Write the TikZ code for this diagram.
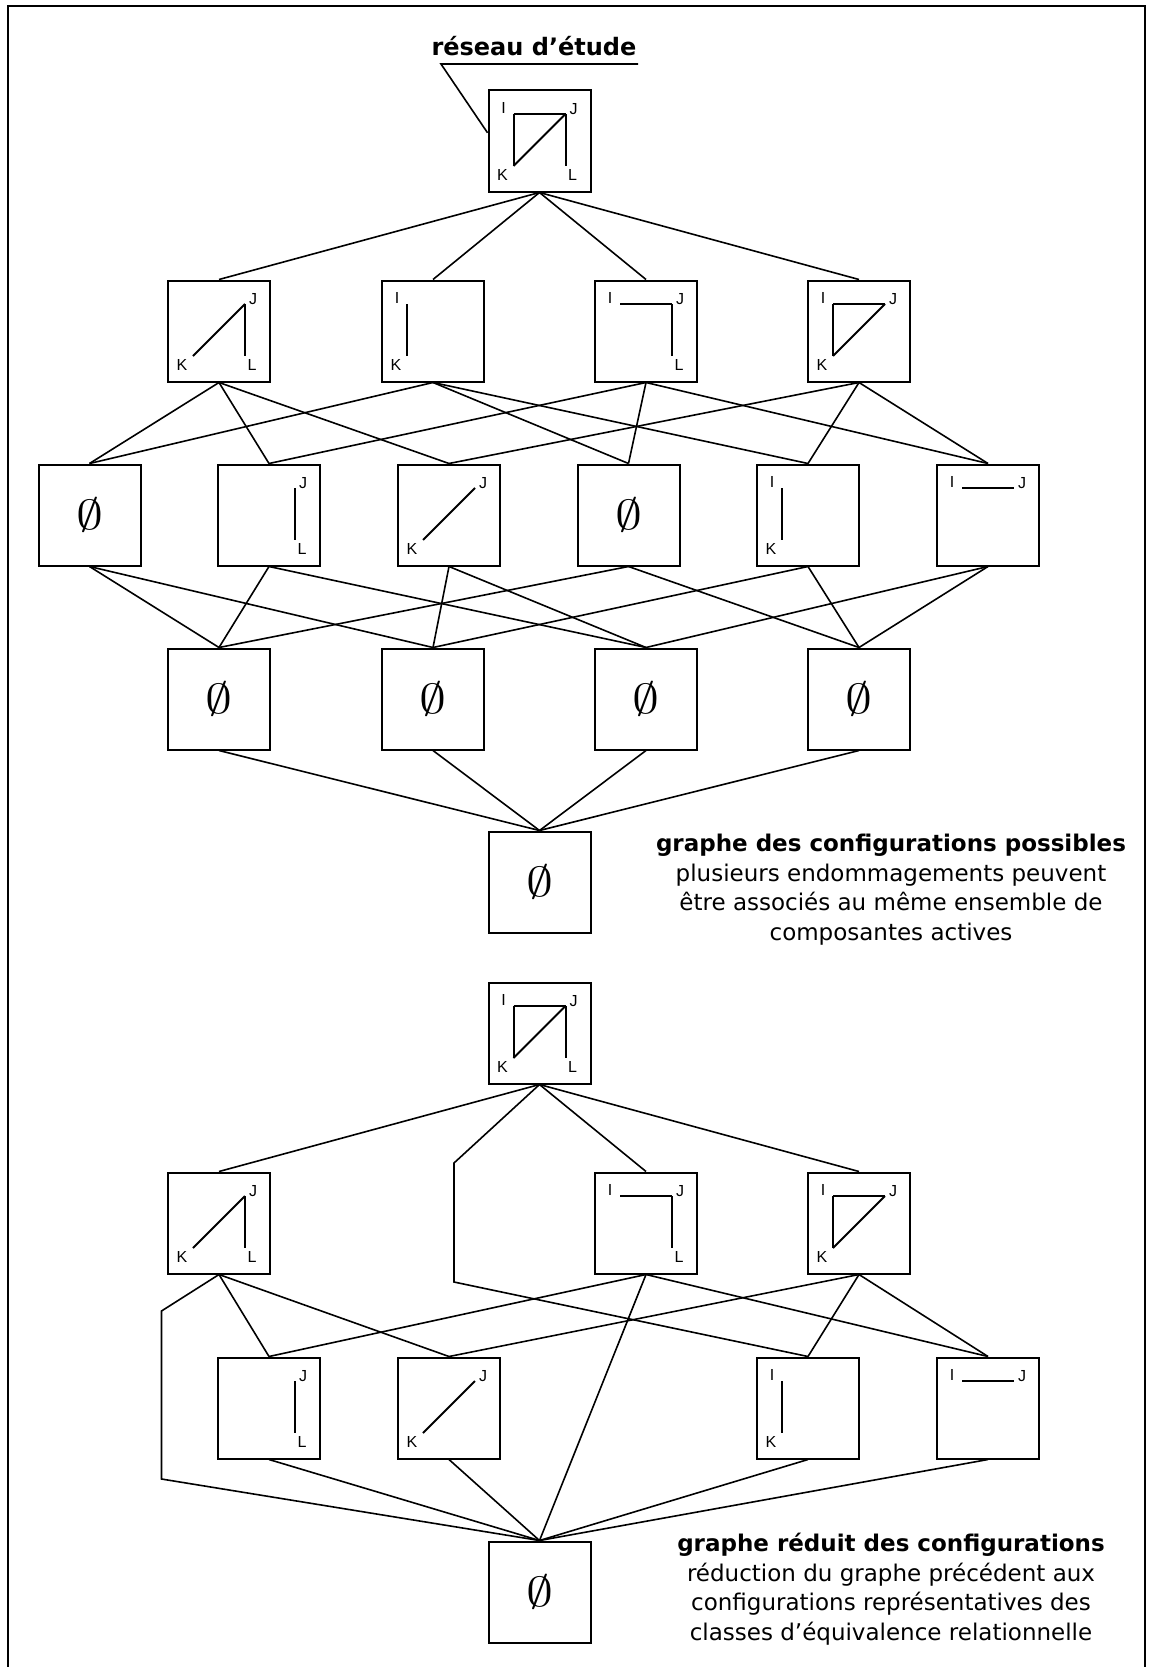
\documentclass[tikz,border=0pt]{standalone}
\usepackage{fontspec}
\setmainfont{DejaVu Sans}
\newfontfamily\lettres{Liberation Sans}
\usetikzlibrary{calc}

% morceaux des petits reseaux, relatifs au centre de la case
\newcommand{\cfgIJ}{\draw[trait] (-26,-27) -- (26,-27);}
\newcommand{\cfgIK}{\draw[trait] (-26,-27) -- (-26,25);}
\newcommand{\cfgKJ}{\draw[trait] (-26,25) -- (26,-27);}
\newcommand{\cfgJL}{\draw[trait] (26,-27) -- (26,25);}
\newcommand{\cfgI}{\node[lettre] at (-36,-33.5) {I};}
\newcommand{\cfgJ}{\node[lettre] at (34,-32) {J};}
\newcommand{\cfgK}{\node[lettre] at (-37,33.5) {K};}
\newcommand{\cfgL}{\node[lettre] at (33,33.5) {L};}
\newcommand{\cfgV}{\node[vide] at (0,0) {$\emptyset$};}
\newcommand{\reseau}[2]{%
  \begin{scope}[shift={(#1)}]
    \foreach \q in {#2} {\csname cfg\q\endcsname}
  \end{scope}}

\begin{document}
\begin{tikzpicture}[x=1pt, y=-1pt,
  case/.style={draw, line width=2pt, minimum width=102pt, minimum height=101pt, inner sep=0pt},
  lien/.style={line width=1.6pt},
  trait/.style={line width=2pt},
  lettre/.style={inner sep=0pt, font=\lettres\fontsize{16}{16}\selectfont},
  vide/.style={inner sep=0pt, xscale=5.4, yscale=4.2},
  legende/.style={align=center, inner sep=0pt, font=\fontsize{23}{29.5}\selectfont}]
  \useasboundingbox (0,0) rectangle (1150,1667);
  \draw[line width=2.5pt] (8,1667) -- (8,6) -- (1145,6) -- (1145,1667);

  % graphe des configurations possibles
  \node[case] (a0) at (539.5,141) {};
  \node[case] (b1) at (219,331) {};
  \node[case] (b2) at (433,331) {};
  \node[case] (b3) at (646,331) {};
  \node[case] (b4) at (859,331) {};
  \node[case] (c1) at (89.5,515) {};
  \node[case] (c2) at (269,515) {};
  \node[case] (c3) at (449,515) {};
  \node[case] (c4) at (628.5,515) {};
  \node[case] (c5) at (808,515) {};
  \node[case] (c6) at (988,515) {};
  \node[case] (d1) at (219,699) {};
  \node[case] (d2) at (433,699) {};
  \node[case] (d3) at (646,699) {};
  \node[case] (d4) at (859,699) {};
  \node[case] (e0) at (539.5,882) {};

  \reseau{a0}{I,J,K,L,IJ,IK,KJ,JL}
  \reseau{b1}{J,K,L,KJ,JL}
  \reseau{b2}{I,K,IK}
  \reseau{b3}{I,J,L,IJ,JL}
  \reseau{b4}{I,J,K,IJ,IK,KJ}
  \reseau{c1}{V}
  \reseau{c2}{J,L,JL}
  \reseau{c3}{J,K,KJ}
  \reseau{c4}{V}
  \reseau{c5}{I,K,IK}
  \reseau{c6}{I,J,IJ}
  \foreach \n in {d1,d2,d3,d4,e0} {\reseau{\n}{V}}

  \foreach \u/\v in {a0/b1,a0/b2,a0/b3,a0/b4,
      b1/c1,b1/c2,b1/c3,b2/c1,b2/c4,b2/c5,b3/c2,b3/c4,b3/c6,b4/c3,b4/c5,b4/c6,
      c1/d1,c1/d2,c2/d1,c2/d3,c3/d2,c3/d3,c4/d1,c4/d4,c5/d2,c5/d4,c6/d3,c6/d4,
      d1/e0,d2/e0,d3/e0,d4/e0}
    \draw[lien] (\u.south) -- (\v.north);

  \node[font=\bfseries\fontsize{24}{24}\selectfont, anchor=base] (titre) at (534,56) {réseau d’étude};
  \coordinate (ul) at (441,64);
  \coordinate (ur) at (638,64);
  \draw[lien] (a0.171) -- (ul) -- (ur);

  \node[legende, anchor=north] (leg1) at (891,834) {\textbf{graphe des configurations possibles}\\
    plusieurs endommagements peuvent\\être associés au même ensemble de\\composantes actives};

  % graphe reduit
  \node[case] (f0) at (539.5,1033) {};
  \node[case] (g1) at (219,1223) {};
  \node[case] (g3) at (646,1223) {};
  \node[case] (g4) at (859,1223) {};
  \node[case] (h2) at (269,1408) {};
  \node[case] (h3) at (449,1408) {};
  \node[case] (h5) at (808,1408) {};
  \node[case] (h6) at (988,1408) {};
  \node[case] (k0) at (539.5,1592) {};

  \reseau{f0}{I,J,K,L,IJ,IK,KJ,JL}
  \reseau{g1}{J,K,L,KJ,JL}
  \reseau{g3}{I,J,L,IJ,JL}
  \reseau{g4}{I,J,K,IJ,IK,KJ}
  \reseau{h2}{J,L,JL}
  \reseau{h3}{J,K,KJ}
  \reseau{h5}{I,K,IK}
  \reseau{h6}{I,J,IJ}
  \reseau{k0}{V}

  \foreach \u/\v in {f0/g1,f0/g3,f0/g4,g1/h2,g1/h3,g3/h2,g3/h6,g3/k0,
      g4/h3,g4/h5,g4/h6,h2/k0,h3/k0,h5/k0,h6/k0}
    \draw[lien] (\u.south) -- (\v.north);
  \coordinate (m1) at (454,1163);
  \coordinate (m2) at (454,1282);
  \draw[lien] (f0.south) -- (m1) -- (m2) -- (h5.north);
  \coordinate (p1) at (161.5,1311);
  \coordinate (p2) at (161.5,1479);
  \draw[lien] (g1.south) -- (p1) -- (p2) -- (k0.north);

  \node[legende, anchor=north] (leg2) at (891,1533) {\textbf{graphe réduit des configurations}\\
    réduction du graphe précédent aux\\configurations représentatives des\\classes d’équivalence relationnelle};
\end{tikzpicture}
\end{document}
